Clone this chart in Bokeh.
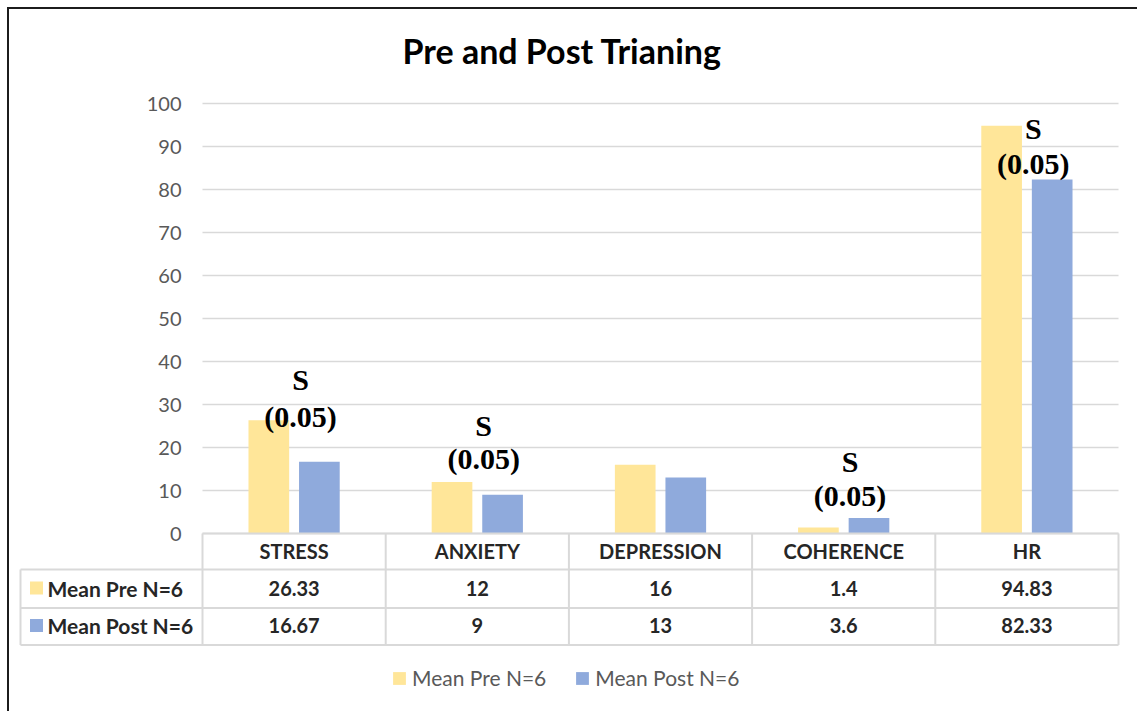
from bokeh.plotting import figure
from bokeh.models import (Range1d, ColumnDataSource, FixedTicker, LinearAxis,
                          Legend, LegendItem)
from bokeh.transform import dodge
from bokeh.layouts import column
from bokeh.embed import file_html
from bokeh.resources import INLINE
from bokeh.core.properties import value

# ---------------- data ----------------
categories = ["STRESS", "ANXIETY", "DEPRESSION", "COHERENCE", "HR"]
mean_pre = [26.33, 12, 16, 1.4, 94.83]
mean_post = [16.67, 9, 13, 3.6, 82.33]
series_names = ["Mean Pre N=6", "Mean Post N=6"]
y_ticks = [0, 10, 20, 30, 40, 50, 60, 70, 80, 90, 100]
title_text = "Pre and Post Trianing"

sig_categories = ["STRESS", "ANXIETY", "COHERENCE", "HR"]
sig_mark = ["S", "S", "S", "S"]
sig_p = ["(0.05)", "(0.05)", "(0.05)", "(0.05)"]
sig_mark_y = [35.9, 25.1, 16.7, 94.1]
sig_p_y = [27.3, 17.4, 8.8, 86.0]

# ---------------- layout / style ----------------
YELLOW = "#FFE699"
BLUE = "#8FAADC"
GRID = "#D9D9D9"
FONT = "Lato"
W, H = 1128, 702          # figure size (page offset 9 px incl. border)
ORIGIN = 9                # picture x/y of the figure's top-left corner
PLOT_LEFT = 202           # picture x of the first category's left edge
CAT_PX = 183.2            # width of one category slot
TOP_BORDER = 75
BASE_Y = 533              # picture y of value 0
PX_PER_UNIT = 4.3

frame_top = ORIGIN + TOP_BORDER
frame_bot = ORIGIN + H
x0 = (ORIGIN - PLOT_LEFT) / CAT_PX
x1 = x0 + W / CAT_PX
y_top = (BASE_Y - frame_top) / PX_PER_UNIT
y_bot = (BASE_Y - frame_bot) / PX_PER_UNIT
tbl_top = frame_top - BASE_Y
tbl_bot = frame_bot - BASE_Y

n = len(categories)
xc = [i + 0.5 for i in range(n)]

p = figure(width=W, height=H, x_range=Range1d(x0, x1), y_range=Range1d(y_bot, y_top),
           output_backend="svg", toolbar_location=None, min_border_left=0,
           min_border_right=0, min_border_top=TOP_BORDER, min_border_bottom=0,
           x_axis_location=None, y_axis_location=None, title=title_text)
p.extra_y_ranges = {"tbl": Range1d(tbl_bot, tbl_top)}
p.outline_line_color = None
p.grid.visible = False

# title
p.title.text_font = FONT
p.title.text_font_style = "bold"
p.title.text_font_size = "34px"
p.title.text_color = "#000000"
p.title.align = "left"
p.title.offset = 402 - ORIGIN
p.title.standoff = 28

# y axis drawn at the left edge of the plot area
ax = LinearAxis(fixed_location=0, ticker=FixedTicker(ticks=y_ticks))
ax.axis_line_color = None
ax.major_tick_line_color = None
ax.minor_tick_line_color = None
ax.major_tick_out = 0
ax.major_tick_in = 0
ax.major_label_standoff = 21
ax.major_label_text_font = FONT
ax.major_label_text_font_size = "20px"
ax.major_label_text_color = "#595959"
p.add_layout(ax, "left")

# horizontal gridlines over the plot area only
p.segment(x0=[0] * len(y_ticks), y0=y_ticks, x1=[n] * len(y_ticks), y1=y_ticks,
          line_color=GRID, line_width=1.5)

# bars
src = ColumnDataSource(dict(x=xc, cat=categories, pre=mean_pre, post=mean_post))
p.vbar(x=dodge("x", -0.138), top="pre", width=0.222, source=src,
       fill_color=YELLOW, line_color=None)
p.vbar(x=dodge("x", 0.138), top="post", width=0.222, source=src,
       fill_color=BLUE, line_color=None)

# significance notes
sig_x = [categories.index(c) + 0.5 for c in sig_categories]
sig_src = ColumnDataSource(dict(x=sig_x, s=sig_mark, p=sig_p, sy=sig_mark_y, py=sig_p_y))
for txt, ycol in (("s", "sy"), ("p", "py")):
    p.text(x=dodge("x", 0.035), y=ycol, text=txt, source=sig_src,
           text_align="center", text_baseline="middle",
           text_font=value("Liberation Serif"), text_font_style="bold",
           text_font_size="30px", text_color="#000000")

# ---------------- data table (y in px below the value-0 line) ----------------
table_left = (20 - PLOT_LEFT) / CAT_PX
row_edges = [0, 36, 74.5, 111.5]
row_mid = [17.5, 54.5, 92]

hx0 = [0] + [table_left] * 3
hx1 = [n] * 4
p.segment(x0=hx0, y0=row_edges, x1=hx1, y1=row_edges, line_color=GRID,
          line_width=2, y_range_name="tbl")
vx = [table_left] + list(range(n + 1))
vy0 = [row_edges[1]] + [row_edges[0]] * (n + 1)
vy1 = [row_edges[-1]] * (n + 2)
p.segment(x0=vx, y0=vy0, x1=vx, y1=vy1, line_color=GRID, line_width=2,
          y_range_name="tbl")

tstyle = dict(text_align="center", text_baseline="middle", text_font=value(FONT),
              text_font_style="bold", text_font_size="20px", text_color="#262626",
              y_range_name="tbl")
p.text(x=xc, y=[row_mid[0]] * n, text=categories, **tstyle)
p.text(x=xc, y=[row_mid[1]] * n, text=[f"{v:g}" for v in mean_pre], **tstyle)
p.text(x=xc, y=[row_mid[2]] * n, text=[f"{v:g}" for v in mean_post], **tstyle)

sq_x = (36 - PLOT_LEFT) / CAT_PX
r_pre = p.rect(x=[sq_x], y=[row_mid[1]], width=13, height=13, width_units="screen",
               height_units="screen", fill_color=YELLOW, line_color=None,
               y_range_name="tbl")
r_post = p.rect(x=[sq_x], y=[row_mid[2]], width=13, height=13, width_units="screen",
                height_units="screen", fill_color=BLUE, line_color=None,
                y_range_name="tbl")
lab_x = (47 - PLOT_LEFT) / CAT_PX
lstyle = dict(tstyle)
lstyle["text_align"] = "left"
lstyle["text_font_size"] = "21px"
p.text(x=[lab_x, lab_x], y=row_mid[1:], text=series_names, **lstyle)

# ---------------- legend ----------------
legend = Legend(items=[LegendItem(label=series_names[0], renderers=[r_pre]),
                       LegendItem(label=series_names[1], renderers=[r_post])],
                orientation="horizontal", location=(382, 12 + frame_bot - 702))
legend.border_line_color = None
legend.background_fill_alpha = 0
legend.padding = 0
legend.margin = 0
legend.spacing = 28
legend.label_standoff = 5
legend.glyph_width = 16
legend.glyph_height = 16
legend.label_text_font = FONT
legend.label_text_font_size = "21px"
legend.label_text_color = "#595959"
p.add_layout(legend)

layout = column(p, styles={"margin-left": "7px", "margin-top": "7px",
                           "border-top": "2px solid #1c1c1c",
                           "border-left": "2px solid #1c1c1c"})

open("out.html", "w").write(file_html(layout, INLINE))
